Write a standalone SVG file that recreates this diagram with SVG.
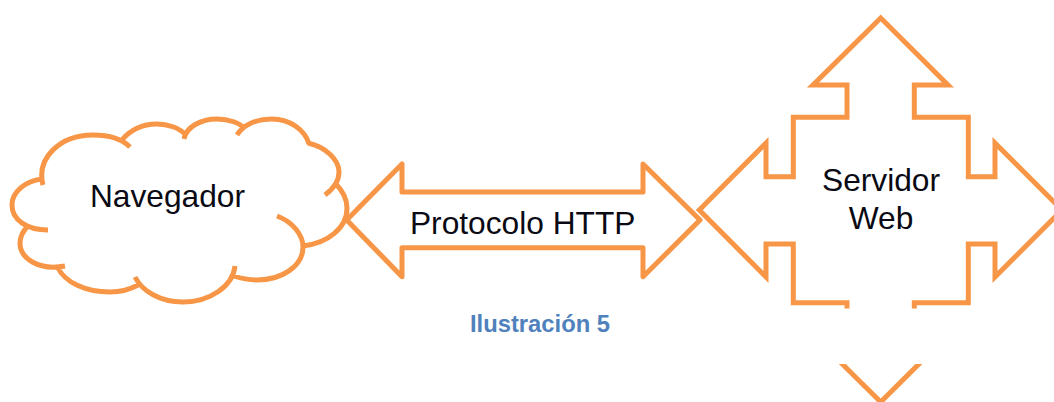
<svg xmlns="http://www.w3.org/2000/svg" width="1054" height="402" viewBox="0 0 1054 402">
<style>
.ln{fill:none;stroke:#f79646;stroke-width:5}
.t{font-family:"Liberation Sans",Arial,sans-serif;font-size:31.700px;fill:#0a0a14;text-anchor:middle}
.cap{font-family:"Liberation Sans",Arial,sans-serif;font-size:23.800px;font-weight:bold;fill:#4f81bd;text-anchor:middle}
</style>
<defs>
<clipPath id="gap"><rect x="690" y="0" width="364" height="308.5"/><rect x="690" y="364" width="364" height="38"/></clipPath>
</defs>
<rect width="1054" height="402" fill="#fff"/>
<g id="navegador">
<path d="M43 185C36 158 60 135 93 135C108 135 122 139 130 147M121 141C130 130 143 124 157 124C168 124 179 128 185 134M184 139C186 127 201 119 217 119C229 119 240 123 245 129M237 135C243 125 256 119 272 119C290 119 305 130 309 144M308 143C326 147 339 160 339 172C339 181 333 189 325 195M335 183C342 190 347 198 347 208C347 228 328 243 303 246M277 216C293 222 303 235 303 247C303 266 282 280 257 280C248 280 240 278 234 276M235 266C233 286 210 302 183 302C160 302 142 291 135 277M138 285C129 290 119 292 110 292C85 292 65 282 58 268M65 266C38 271 20 258 20 243C20 236 23 231 28 226M48 230C27 230 12 220 12 205C12 192 25 181 42 179" class="ln"/>
<text class="t" x="167.500" y="207">Navegador</text>
</g>
<g id="protocolo">
<path d="M346.700 220L402 164V192H643V164L700 220L643 276.700V247.700H402V276.700Z" class="ln" style="stroke-linejoin:round;fill:#fff"/>
<text class="t" x="522.700" y="234">Protocolo HTTP</text>
</g>
<g id="servidor">
<path fill="#fff" d="M880.700 18L948 85H914.300V117.300H968.300V176.700H995V143L1062 210L995 277V244H968.300V302.700H914.300V335H948L880.700 402L813 335H847V302.700H793.300V244H766V277L699.300 210L766 143V176.700H793.300V117.300H847V85H813Z"/>
<path clip-path="url(#gap)" class="ln" style="stroke-miterlimit:10" d="M880.700 18L948 85H914.300V117.300H968.300V176.700H995V143L1062 210L995 277V244H968.300V302.700H914.300V335H948L880.700 402L813 335H847V302.700H793.300V244H766V277L699.300 210L766 143V176.700H793.300V117.300H847V85H813Z"/>
<text class="t" x="881" y="191">Servidor</text>
<text class="t" x="881" y="229">Web</text>
</g>
<text class="cap" x="540" y="332">Ilustración 5</text>
</svg>
